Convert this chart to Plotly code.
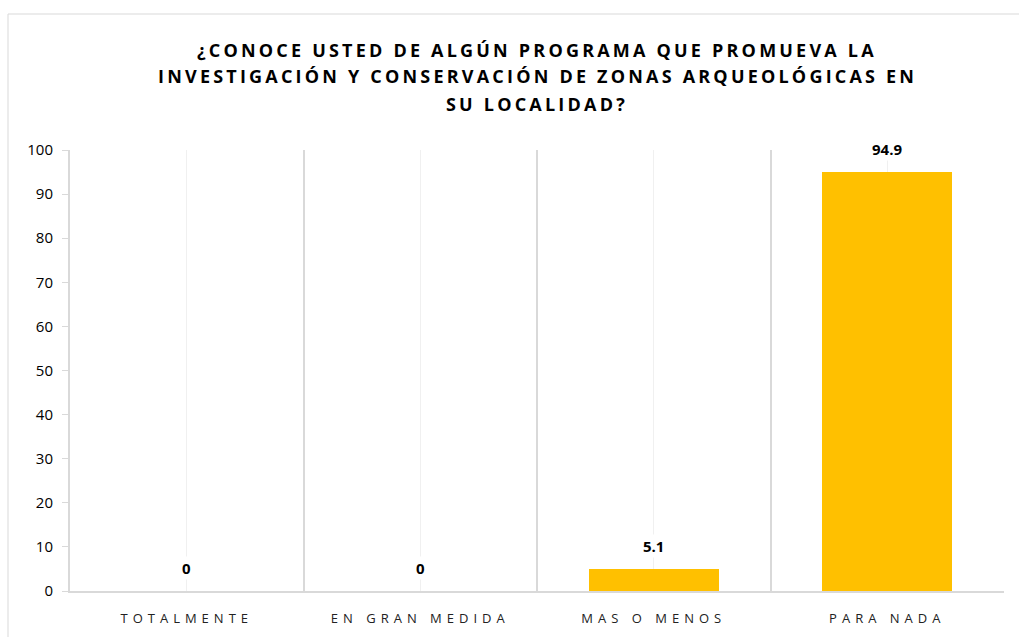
import plotly.graph_objects as go

categories = ["TOTALMENTE", "EN GRAN MEDIDA", "MAS O MENOS", "PARA NADA"]
values = [0, 0, 5.1, 94.9]
value_labels = ["0", "0", "5.1", "94.9"]
y_ticks = [0, 10, 20, 30, 40, 50, 60, 70, 80, 90, 100]
title_lines = [
    "¿CONOCE USTED DE ALGÚN PROGRAMA QUE PROMUEVA LA",
    "INVESTIGACIÓN Y CONSERVACIÓN DE ZONAS ARQUEOLÓGICAS EN",
    "SU LOCALIDAD?",
]

BAR = "#FFC000"
GRID = "#D9D9D9"
FONT = "Open Sans"

W, H = 1019, 637
L, R, T, B = 70, 15, 150, 46
PH = H - T - B
PW = W - L - R

xpos = list(range(len(categories)))

def spaced(t, ls):
    return f'<span style="letter-spacing:{ls}px">{t}</span>'

fig = go.Figure()
fig.add_trace(go.Bar(
    x=xpos, y=values, width=0.555,
    marker=dict(color=BAR, line=dict(width=0)),
    hoverinfo="skip",
))

annotations = []
for xi, v, lab in zip(xpos, values, value_labels):
    annotations.append(dict(
        x=xi, y=v, xref="x", yref="y", text=f"<b>{lab}</b>",
        showarrow=False, yanchor="bottom", yshift=11,
        bgcolor="white", borderpad=1,
        font=dict(family=FONT, size=15, color="#000000"),
    ))

title_y_px = [49.5, 76.5, 103.5]
for line, py in zip(title_lines, title_y_px):
    annotations.append(dict(
        x=0.5, xref="paper", y=(H - B - py) / PH, yref="paper",
        xanchor="center", yanchor="middle", showarrow=False,
        text=spaced(f"<b>{line}</b>", 3.2),
        font=dict(family=FONT, size=18, color="#000000"),
    ))

fig.update_layout(
    width=W, height=H,
    margin=dict(l=L, r=R, t=T, b=B, autoexpand=False),
    paper_bgcolor="white", plot_bgcolor="white",
    showlegend=False,
    bargap=0,
    xaxis=dict(
        range=[-0.5, 3.5],
        tickmode="array", tickvals=xpos,
        ticktext=[spaced(c, 5.0) for c in categories],
        tickfont=dict(family=FONT, size=13, color="#222222"),
        showgrid=True, gridcolor="#F0F0F0", gridwidth=1,
        minor=dict(tickmode="linear", tick0=0.5, dtick=1, showgrid=True,
                   gridcolor=GRID, gridwidth=2, ticks=""),
        ticks="", ticklabelstandoff=14, automargin=False,
        showline=True, linecolor=GRID, linewidth=2,
        zeroline=False, fixedrange=True,
    ),
    yaxis=dict(
        range=[0, 100], tickmode="array", tickvals=y_ticks,
        tickfont=dict(family=FONT, size=15, color="#000000"),
        showgrid=False, zeroline=False, automargin=False,
        showline=True, linecolor=GRID, linewidth=2,
        ticks="outside", ticklen=6, tickcolor=GRID, tickwidth=1,
        ticklabelstandoff=6, fixedrange=True,
    ),
    yaxis2=dict(
        range=[0, 100], overlaying="y", side="right", anchor="x",
        showline=True, linecolor=GRID, linewidth=2, automargin=False,
        showticklabels=False, ticks="", showgrid=False, zeroline=False,
        fixedrange=True,
    ),
    annotations=annotations,
    shapes=[dict(
        type="rect", xref="paper", yref="paper",
        x0=(8 - L) / PW, x1=(W + 10 - L) / PW,
        y0=(H - B - (H + 10)) / PH, y1=(H - B - 14) / PH,
        line=dict(color=GRID, width=1), fillcolor="rgba(0,0,0,0)",
        layer="below",
    )],
)

fig.write_html("out.html", config={"displayModeBar": False},
               post_script="document.body.style.margin='0';")
